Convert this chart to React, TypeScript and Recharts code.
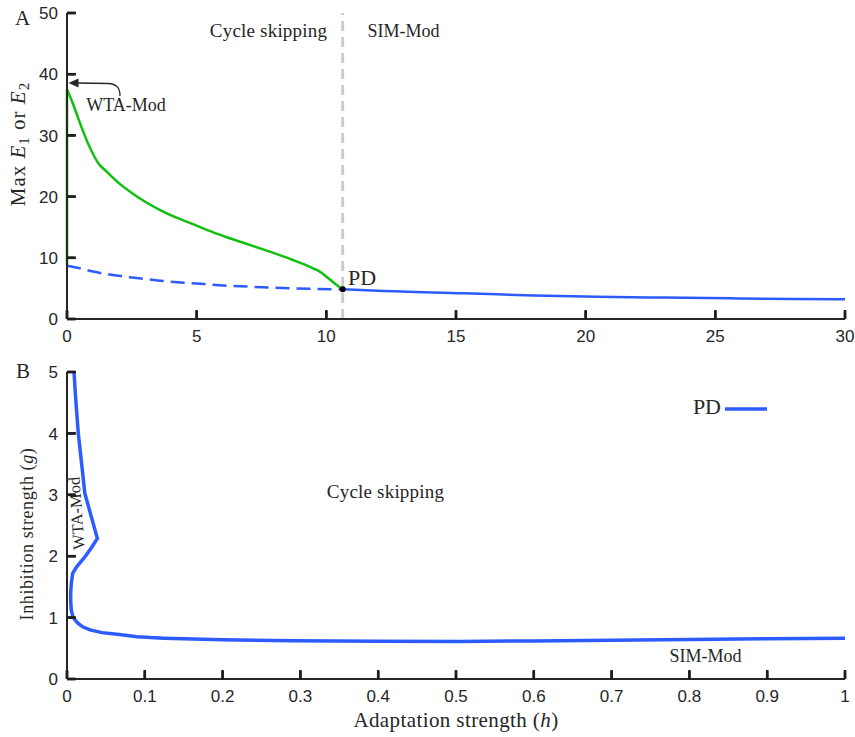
import React from 'react';
import { LineChart, Line, XAxis, YAxis, ReferenceLine, ReferenceDot } from 'recharts';

// ---------- Panel A data ----------
const greenRiseH = [0, 0];
const greenRiseE = [8.9, 37.5];

const greenH = [0, 0.2, 0.4, 0.6, 0.8, 1.0, 1.2, 1.5, 2.0, 2.5, 3.0, 3.59, 4.2, 4.86, 5.5, 6.16, 6.8, 7.44, 8.1, 8.71, 9.1, 9.49, 9.8, 10.01, 10.3, 10.63];
const greenE = [37.5, 35.5, 33.2, 30.9, 28.8, 27.0, 25.5, 24.2, 22.2, 20.6, 19.2, 17.8, 16.6, 15.5, 14.4, 13.35, 12.45, 11.55, 10.6, 9.64, 9.0, 8.28, 7.6, 6.9, 5.9, 4.85];

const blueDashH = [0, 0.5, 1.0, 2.0, 3.0, 3.59, 5.0, 6.16, 7.5, 8.73, 10.63];
const blueDashE = [8.7, 8.28, 7.75, 7.05, 6.55, 6.26, 5.8, 5.45, 5.2, 5.0, 4.85];

const blueSolidH = [10.63, 12, 15.28, 18, 20.42, 23, 25.57, 28, 30];
const blueSolidE = [4.85, 4.6, 4.2, 3.85, 3.65, 3.5, 3.38, 3.28, 3.22];

const pdPointA = { h: 10.63, e: 4.85 };
const boundaryH = 10.63;

const xTicksA = [0, 5, 10, 15, 20, 25, 30];
const yTicksA = [0, 10, 20, 30, 40, 50];

// ---------- Panel B data ----------
const pdH = [0.009, 0.011, 0.0145, 0.018, 0.023, 0.030, 0.039, 0.032, 0.023, 0.012, 0.0073, 0.0055, 0.0047, 0.0048, 0.0055, 0.0075, 0.0103, 0.014, 0.02, 0.0296, 0.045, 0.07, 0.09, 0.107, 0.125, 0.162, 0.2, 0.291, 0.4, 0.505, 0.6, 0.7, 0.8, 0.9, 1.0];
const pdG = [5.0, 4.6, 4.0, 3.6, 3.02, 2.7, 2.29, 2.15, 1.99, 1.82, 1.72, 1.55, 1.40, 1.25, 1.12, 1.02, 0.96, 0.91, 0.85, 0.80, 0.755, 0.72, 0.69, 0.675, 0.665, 0.652, 0.64, 0.622, 0.615, 0.612, 0.62, 0.632, 0.645, 0.655, 0.665];

const xTicksB = [0, 0.1, 0.2, 0.3, 0.4, 0.5, 0.6, 0.7, 0.8, 0.9, 1];
const yTicksB = [0, 1, 2, 3, 4, 5];

// ---------- tables ----------
const greenRiseData = greenRiseH.map((h, i) => ({ h, e: greenRiseE[i] }));
const greenData = greenH.map((h, i) => ({ h, e: greenE[i] }));
const blueDashData = blueDashH.map((h, i) => ({ h, e: blueDashE[i] }));
const blueSolidData = blueSolidH.map((h, i) => ({ h, e: blueSolidE[i] }));
const pdData = pdH.map((h, i) => ({ h, g: pdG[i] }));

const AX = '#262626';
const TICK = '#1e1e1e';
const BLUE = '#2c5cff';
const GREEN = '#10c010';
const SANS = "'Liberation Sans', Arial, sans-serif";
const SERIF = "'Liberation Serif', 'Times New Roman', serif";

// tickSize=-8, tickMargin=19 => label y sits 11px below the axis line
function XTick(props: any) {
  const { x, y, payload } = props;
  return (
    <g>
      <line x1={x} x2={x} y1={y - 11} y2={y - 20} stroke={TICK} strokeWidth={2.5} />
      <text x={x} y={y} dy="0.71em" textAnchor="middle" fontFamily={SANS} fontSize={17} fill={AX}>
        {String(payload.value)}
      </text>
    </g>
  );
}

// tickSize=-8, tickMargin=17 => label x sits 9px left of the axis line
function YTick(props: any) {
  const { x, y, payload } = props;
  return (
    <g>
      <line x1={x + 9} x2={x + 18} y1={y} y2={y} stroke={TICK} strokeWidth={2.5} />
      <text x={x} y={y} dy="0.36em" textAnchor="end" fontFamily={SANS} fontSize={17} fill={AX}>
        {String(payload.value)}
      </text>
    </g>
  );
}

const axisLine = { stroke: AX, strokeWidth: 2 };
const tickLine = { stroke: TICK, strokeWidth: 2.5 };

export default function App() {
  return (
    <div style={{ width: 855, height: 737 }}>
      <svg width={855} height={737} style={{ position: 'absolute', left: 0, top: 0 }}>
        <g fontFamily={SERIF} fill={AX}>
          <text x={15} y={25} fontSize={21}>A</text>
          <text x={16} y={378} fontSize={21}>B</text>
          <text transform="translate(25,144) rotate(-90)" textAnchor="middle" fontSize={21} letterSpacing={1}>
            {'Max '}
            <tspan fontStyle="italic">E</tspan>
            <tspan fontSize={15} dy={4}>1</tspan>
            <tspan dy={-4}>{' or '}</tspan>
            <tspan fontStyle="italic">E</tspan>
            <tspan fontSize={15} dy={4}>2</tspan>
          </text>
          <text x={268.5} y={37} textAnchor="middle" fontSize={19} letterSpacing={0.2}>Cycle skipping</text>
          <text x={403.5} y={37} textAnchor="middle" fontSize={18}>SIM-Mod</text>
          <text x={126} y={111} textAnchor="middle" fontSize={18}>WTA-Mod</text>
          <text x={348} y={285} fontSize={22}>PD</text>
          <path d="M120,96 C120,88 117,84 108,83.5 L77,83" fill="none" stroke={AX} strokeWidth={1.3} />
          <polygon points="68.5,83 78.5,78.5 78.5,87.5" fill={AX} />

          <text transform="translate(33,534) rotate(-90)" textAnchor="middle" fontSize={18} letterSpacing={0.6}>
            {'Inhibition strength ('}
            <tspan fontStyle="italic">g</tspan>
            {')'}
          </text>
          <text x={456} y={727} textAnchor="middle" fontSize={21} letterSpacing={0.4}>
            {'Adaptation strength ('}
            <tspan fontStyle="italic">h</tspan>
            {')'}
          </text>
          <text x={385.5} y={498} textAnchor="middle" fontSize={19} letterSpacing={0.2}>Cycle skipping</text>
          <text x={705.5} y={661.5} textAnchor="middle" fontSize={18}>SIM-Mod</text>
          <text transform="translate(82,513) rotate(-94)" textAnchor="middle" fontSize={16.5}>WTA-Mod</text>
          <text x={721} y={414} textAnchor="end" fontSize={22}>PD</text>
        </g>
        <line x1={725} x2={767} y1={409} y2={409} stroke={BLUE} strokeWidth={3.5} />
      </svg>
      <div style={{ position: 'absolute', left: 0, top: 0 }}>
        <LineChart width={855} height={350} margin={{ top: 13, right: 10, bottom: 0, left: 0 }}>
          <XAxis
            type="number"
            dataKey="h"
            domain={[0, 30]}
            ticks={xTicksA}
            interval={0}
            height={31}
            tickSize={-8}
            tickMargin={19}
            tickLine={tickLine}
            axisLine={axisLine}
            tick={<XTick />}
          />
          <YAxis
            type="number"
            dataKey="e"
            domain={[0, 50]}
            ticks={yTicksA}
            interval={0}
            width={67}
            tickSize={-8}
            tickMargin={17}
            tickLine={tickLine}
            axisLine={axisLine}
            tick={<YTick />}
          />
          <ReferenceLine x={boundaryH} stroke="#cccccc" strokeWidth={3} strokeDasharray="10 6" />
          <Line data={blueDashData} dataKey="e" type="monotone" stroke={BLUE} strokeWidth={2.5} strokeDasharray="14 7" dot={false} isAnimationActive={false} />
          <Line data={blueSolidData} dataKey="e" type="monotone" stroke={BLUE} strokeWidth={2.5} dot={false} isAnimationActive={false} />
          <Line data={greenRiseData} dataKey="e" stroke={GREEN} strokeWidth={2.5} dot={false} isAnimationActive={false} />
          <Line data={greenData} dataKey="e" type="monotone" stroke={GREEN} strokeWidth={2.5} dot={false} isAnimationActive={false} />
          <ReferenceDot x={pdPointA.h} y={pdPointA.e} r={3} fill="#000" stroke="none" />
        </LineChart>
      </div>
      <div style={{ position: 'absolute', left: 0, top: 359 }}>
        <LineChart width={855} height={378} margin={{ top: 13, right: 10, bottom: 28, left: 0 }}>
          <XAxis
            type="number"
            dataKey="h"
            domain={[0, 1]}
            ticks={xTicksB}
            interval={0}
            height={30}
            tickSize={-8}
            tickMargin={19}
            tickLine={tickLine}
            axisLine={axisLine}
            tick={<XTick />}
          />
          <YAxis
            type="number"
            dataKey="g"
            domain={[0, 5]}
            ticks={yTicksB}
            interval={0}
            width={67}
            tickSize={-8}
            tickMargin={17}
            tickLine={tickLine}
            axisLine={axisLine}
            tick={<YTick />}
          />
          <Line data={pdData} dataKey="g" stroke={BLUE} strokeWidth={3.5} dot={false} isAnimationActive={false} />
        </LineChart>
      </div>
    </div>
  );
}
